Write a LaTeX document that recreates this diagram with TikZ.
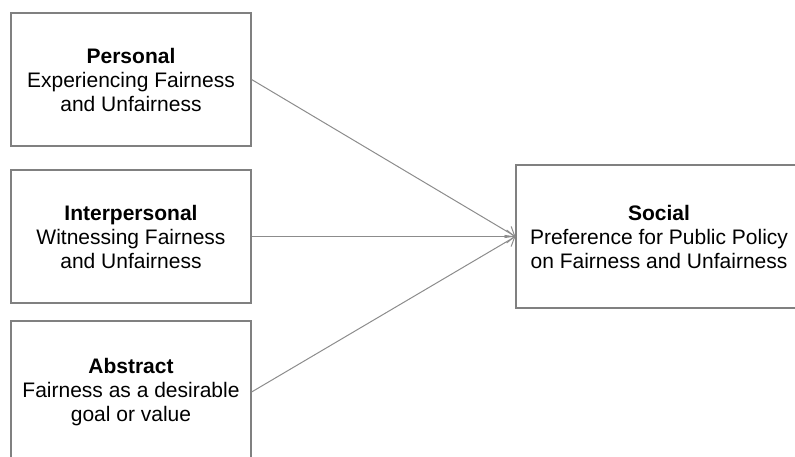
\documentclass[tikz,border=0pt]{standalone}
\usepackage{fontspec}
\setmainfont{Liberation Sans}
\usetikzlibrary{arrows.meta}

\begin{document}
\begin{tikzpicture}[
        x=1pt, y=-1pt,
        font=\fontsize{21}{24}\selectfont, >={Straight Barb[length=8pt,width=13pt]},
        lvl/.style={draw=black!50, line width=1.2pt, align=center, minimum width=240pt, minimum height=133pt},
        soc/.style={lvl, minimum width=286pt, minimum height=143pt},
        link/.style={->, draw=black!45, line width=1pt}
    ]
        \clip (0,0) rectangle (795,457);
        \node[lvl] (pers) at (131,79.5) {\textbf{Personal}\\Experiencing Fairness\\and Unfairness};
        \node[lvl] (inter) at (131,236.5) {\textbf{Interpersonal}\\Witnessing Fairness\\and Unfairness};
        \node[lvl, minimum height=142pt] (abst) at (131,392) {\textbf{Abstract}\\Fairness as a desirable\\goal or value};
        \node[soc] (social) at (659,236.5) {\textbf{Social}\\Preference for Public Policy\\on Fairness and Unfairness};
        \draw[link] (pers.east) -- (social.west);
        \draw[link] (inter.east) -- (social.west);
        \draw[link] (abst.east) -- (social.west);
    \end{tikzpicture}
\end{document}
